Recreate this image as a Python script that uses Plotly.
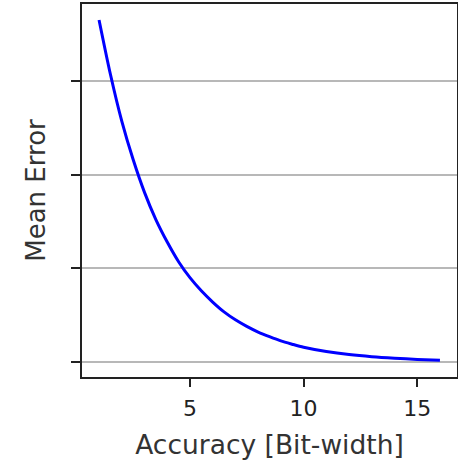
import plotly.graph_objects as go

# Data
bit_width = [1, 1.5, 2, 2.5, 3, 3.5, 4, 4.5, 5, 5.5, 6, 6.5, 7, 7.5, 8, 8.5, 9, 9.5,
             10, 11, 12, 13, 14, 15, 16]
mean_error = [3.65, 3.07, 2.57, 2.16, 1.81, 1.52, 1.28, 1.07, 0.90, 0.76, 0.64, 0.535,
              0.45, 0.38, 0.32, 0.27, 0.225, 0.19, 0.158, 0.112, 0.079, 0.056,
              0.04, 0.028, 0.02]
x_ticks = [5, 10, 15]
y_ticks = [0, 1, 2, 3]

fig = go.Figure()
fig.add_trace(go.Scatter(
    x=bit_width, y=mean_error, mode="lines",
    line=dict(color="#0000ff", width=3, shape="spline", smoothing=0.8),
    showlegend=False,
))

font_family = "DejaVu Sans"
fig.update_layout(
    width=458, height=460,
    margin=dict(l=82, r=1, t=4, b=83),
    paper_bgcolor="white", plot_bgcolor="white",
    font=dict(family=font_family, color="#222222"),
    xaxis=dict(
        range=[0.25, 16.75], automargin=False,
        tickvals=x_ticks, ticktext=[str(v) for v in x_ticks],
        ticks="outside", ticklen=8, tickwidth=1.5, tickcolor="#222",
        tickfont=dict(size=22, color="#222"), ticklabelstandoff=3,
        showgrid=False, zeroline=False,
        showline=True, linecolor="#222", linewidth=1.6, mirror=True,
        title=dict(text="Accuracy [Bit-width]", font=dict(size=26.5, color="#333"), standoff=16),
    ),
    yaxis=dict(
        range=[-0.16, 3.82], automargin=False,
        tickvals=y_ticks, showticklabels=False,
        ticks="outside", ticklen=9, tickwidth=1.5, tickcolor="#222",
        showgrid=True, gridcolor="#b8b8b8", gridwidth=1.5,
        zeroline=False,
        showline=True, linecolor="#222", linewidth=1.6, mirror=True,
        title=dict(text="Mean Error", font=dict(size=26, color="#333"), standoff=18),
    ),
)

fig.write_html("out.html", config={"displayModeBar": False},
               post_script="document.body.style.margin='0px';")
